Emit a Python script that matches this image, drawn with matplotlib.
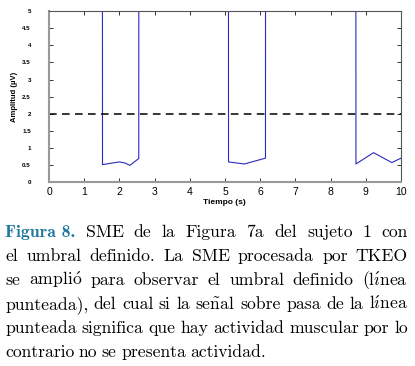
import matplotlib.pyplot as plt

plt.rcParams["mathtext.fontset"] = "cm"

# Señal SME procesada por TKEO (valores > 5 quedan fuera del eje)
time_s = [1.50, 1.52, 1.75, 2.00, 2.15, 2.30, 2.55, 2.57,
          5.08, 5.10, 5.55, 6.15, 6.17,
          8.70, 8.72, 9.22, 9.74, 10.0]
amplitude_uv = [60, 0.52, 0.56, 0.60, 0.57, 0.50, 0.70, 60,
                60, 0.60, 0.54, 0.71, 60,
                60, 0.54, 0.87, 0.58, 0.71]
threshold = 2.0

x_ticks = list(range(0, 11))
y_ticks = [0, 0.5, 1, 1.5, 2, 2.5, 3, 3.5, 4, 4.5, 5]
y_tick_labels = ["0", "0.5", "1", "1.5", "2", "2.5", "3", "3.5", "4", "4.5", "5"]

caption_label = "Figura 8."
caption_lines = [
    "SME de la Figura 7a del sujeto 1 con",
    "el umbral definido.  La SME procesada por TKEO",
    "se ampli$\\mathrm{\\acute{o}}$ para observar el umbral definido "
    "(l$\\mathrm{\\acute{\\imath}}$nea",
    "punteada), del cual si la se$\\mathrm{\\tilde{n}}$al sobre pasa de la "
    "l$\\mathrm{\\acute{\\imath}}$nea",
    "punteada significa que hay actividad muscular por lo",
    "contrario no se presenta actividad.",
]

W, H = 415, 366
fig = plt.figure(figsize=(W / 100, H / 100), dpi=100)
ax = fig.add_axes([49 / W, 1 - 182.5 / H, 352 / W, 171.5 / H])

ax.plot(time_s, amplitude_uv, color="#2a2ac0", lw=0.8)
ax.axhline(threshold, color="black", lw=1.1, ls=(0, (5, 3.5)))

ax.set_xlim(0, 10)
ax.set_ylim(0, 5)
ax.set_xticks(x_ticks)
ax.set_xticklabels([str(t) for t in x_ticks], fontsize=7.5,
                   family="Liberation Sans")
ax.set_yticks(y_ticks)
ax.set_yticklabels(y_tick_labels, fontsize=4.5, fontweight="bold",
                   family="Liberation Sans")
ax.tick_params(axis="both", direction="in", length=3, width=0.7,
               top=True, right=True, color="#333333")
ax.tick_params(axis="y", pad=13)
ax.tick_params(axis="x", pad=3)

for side in ["top", "right"]:
    ax.spines[side].set_color("#555555")
    ax.spines[side].set_linewidth(0.8)
for side in ["left", "bottom"]:
    ax.spines[side].set_color("#999999")
    ax.spines[side].set_linewidth(1.5)

fig.text(15 / W, 1 - 97 / H, "Amplitud (µV)", rotation=90, ha="center",
         va="center", fontsize=5.5, fontweight="bold", family="Liberation Sans")
fig.text(224 / W, 1 - 203 / H, "Tiempo (s)", ha="center", va="center",
         fontsize=6, fontweight="bold", family="Liberation Sans")

# Pie de figura justificado
serif = ["cmr10", "DejaVu Serif"]
fs = 12.7
x0, x1 = 5 / W, 408 / W
baselines = [237, 261, 285, 309, 333, 357]
renderer = fig.canvas.get_renderer()

for i, line in enumerate(caption_lines):
    y = 1 - baselines[i] / H
    texts = []
    if i == 0:
        texts.append(fig.text(0, y, caption_label, fontsize=fs, va="baseline",
                              family=["cmb10", "DejaVu Serif"],
                              color="#1f78a0"))
    for word in line.split():
        texts.append(fig.text(0, y, word, fontsize=fs, va="baseline",
                              family=serif))
    widths = [t.get_window_extent(renderer).width / W for t in texts]
    last = i == len(caption_lines) - 1
    gap = 4.5 / W if last else (x1 - x0 - sum(widths)) / (len(texts) - 1)
    x = x0
    for t, w in zip(texts, widths):
        t.set_x(x)
        x += w + gap

fig.savefig("out.png", dpi=100)
